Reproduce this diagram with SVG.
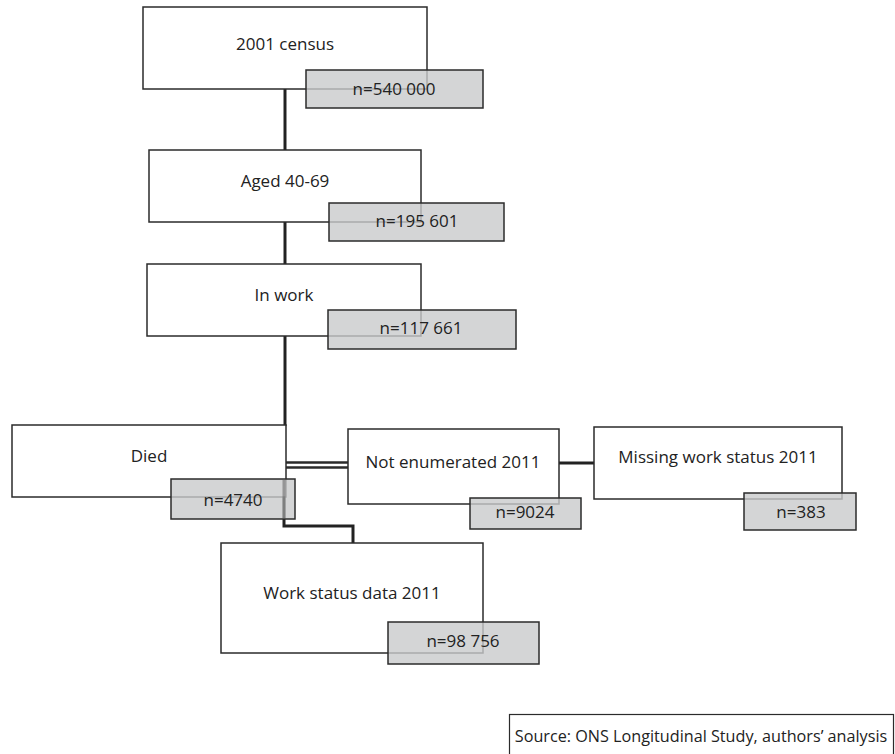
<svg xmlns="http://www.w3.org/2000/svg" width="895" height="754" viewBox="0 0 895 754">
<style>
.box{fill:#fff;stroke:#2b2b2b;stroke-width:1.5}
.nbox{fill:#c9cacc;fill-opacity:0.8;stroke:#2b2b2b;stroke-width:1.5}
.lbl{font-family:"Open Sans","Liberation Sans",sans-serif;font-size:17px;fill:#222;text-anchor:middle}
.con{fill:none;stroke:#222;stroke-width:3}
.con2{fill:none;stroke:#2b2b2b;stroke-width:2.4}
</style>
<rect width="895" height="754" fill="#fff"/>
<g id="connectors">
<line class="con" x1="285" y1="89" x2="285" y2="150"/>
<line class="con" x1="285" y1="222" x2="285" y2="264"/>
<polyline class="con" points="285,336 285,426"/>
<line class="con2" x1="286" y1="462.5" x2="348" y2="462.5"/>
<line class="con2" x1="286" y1="467.5" x2="348" y2="467.5"/>
<line class="con" x1="559" y1="463" x2="594" y2="463"/>
<polyline class="con" points="284,497 284,526 353,526 353,543"/>
</g>
<g id="census">
<rect class="box" x="143" y="7" width="284" height="82"/>
<text class="lbl" x="285" y="50">2001 census</text>
<rect class="nbox" x="306" y="70" width="177" height="38"/>
<text class="lbl" x="394" y="95">n=540 000</text>
</g>
<g id="aged">
<rect class="box" x="149" y="150" width="272" height="72"/>
<text class="lbl" x="285" y="187">Aged 40-69</text>
<rect class="nbox" x="329" y="203" width="175" height="38"/>
<text class="lbl" x="417" y="227">n=195 601</text>
</g>
<g id="inwork">
<rect class="box" x="147" y="264" width="274" height="72"/>
<text class="lbl" x="284" y="301">In work</text>
<rect class="nbox" x="328" y="310" width="188" height="39"/>
<text class="lbl" x="421" y="334">n=117 661</text>
</g>
<g id="died">
<rect class="box" x="12" y="425" width="274" height="72"/>
<text class="lbl" x="149" y="462">Died</text>
<rect class="nbox" x="171" y="479" width="124" height="40"/>
<line x1="284" y1="479" x2="284" y2="519" stroke="#555" stroke-width="3" stroke-opacity="0.5"/>
<text class="lbl" x="233" y="506">n=4740</text>
</g>
<g id="notenum">
<rect class="box" x="348" y="429" width="211" height="75"/>
<text class="lbl" x="453" y="468">Not enumerated 2011</text>
<rect class="nbox" x="470" y="498" width="111" height="31"/>
<text class="lbl" x="525" y="518">n=9024</text>
</g>
<g id="missing">
<rect class="box" x="594" y="427" width="248" height="72"/>
<text class="lbl" x="718" y="463">Missing work status 2011</text>
<rect class="nbox" x="744" y="493" width="112" height="37"/>
<text class="lbl" x="801" y="518">n=383</text>
</g>
<g id="workstatus">
<rect class="box" x="221" y="543" width="262" height="110"/>
<text class="lbl" x="352" y="599">Work status data 2011</text>
<rect class="nbox" x="388" y="622" width="151" height="42"/>
<text class="lbl" x="463" y="647">n=98 756</text>
</g>
<g id="source">
<rect x="509.5" y="714.5" width="384" height="45" fill="#fff" stroke="#2b2b2b" stroke-width="1.2"/>
<text class="lbl" x="701" y="742" style="font-size:16.2px">Source: ONS Longitudinal Study, authors’ analysis</text>
</g>
</svg>
